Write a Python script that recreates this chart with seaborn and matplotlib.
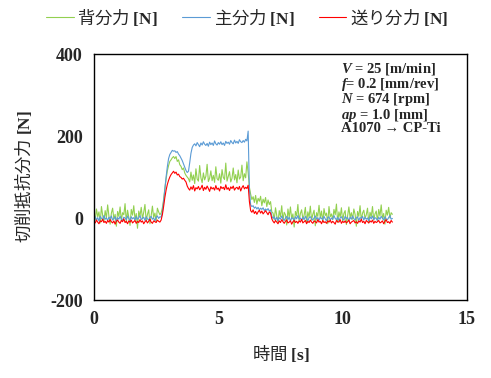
import numpy as np
import pandas as pd
import matplotlib
matplotlib.use("Agg")
import matplotlib.pyplot as plt
import seaborn as sns

# time axis, 0.05 s step from 0 to 12 s
time_s = np.round(np.arange(241) * 0.05, 2)

# 背分力 (thrust force) [N]
back_force = [
    10, -5, 22, 3, 15, -12, 28, 6, -8, 18, 0, 32, 5, -15, 12, 24, -3, 9, -20, 16,
    4, 27, -6, 13, 8, 35, -10, 19, 2, -18, 21, 7, 30, -4, 11, -25, 17, 5, 26, -2,
    14, 33, -7, 9, 20, -14, 6, 29, 1, 12, -9, 24, 15, 8,
    12, 25, 45, 72, 95, 115, 128, 138, 142, 147, 150,
    145, 150, 138, 142, 130, 126, 118, 122, 110, 104, 100,
    96, 88, 112, 92, 105, 84, 120, 95, 90, 128, 98, 86, 110, 93, 102, 131, 89, 97, 115, 91,
    104, 87, 125, 96, 92, 108, 85, 118, 99, 94, 134, 90, 101, 113, 88, 97, 122, 93, 106, 86,
    117, 95, 100, 129, 91, 108, 98, 137, 110,
    75,
    58, 45, 52, 38, 55, 34, 48, 41, 53, 30, 46, 37, 50, 28, 44, 33, 40,
    15,
    12, -4, 25, 6, -10, 18, 3, 30, -6, 14, 8, -17, 22, 1, 27, -2, 10, -22, 16, 5,
    33, -8, 11, 20, -3, 7, 26, -13, 15, 2, 29, -5, 9, 19, -19, 13, 4, 31, 0, 17,
    -9, 23, 6, 12, -14, 28, 3, 10, -4, 21, 8, 34, -11, 15, 2, 25, -7, 11, 18, -16,
    6, 27, 1, 13, -3, 22, 9, -20, 16, 4, 30, -6, 12, 19, -1, 8, 24, -12, 14, 3,
    28, -5, 10, 17, -8, 21, 5, 32, -2, 11, -15, 19, 7, 26, 0, 13, 9,
]

# 主分力 (principal force) [N]
main_force = [
    -2, 3, -5, 1, -7, 4, -1, -4, 6, -3, 0, -6, 2, -2, 5, -5, -1, 3, -8, 1,
    -3, 4, -2, -6, 2, 0, -4, 5, -1, -7, 3, -2, 1, -5, 4, -3, 0, 6, -4, -1,
    2, -6, 3, -2, -5, 1, 4, -3, 0, -7, 2, 5, -1, 3,
    2, 15, 40, 70, 100, 125, 145, 155, 160, 165, 163,
    164, 160, 162, 156, 152, 146, 140, 132, 124, 116, 111,
    114, 135, 158, 172, 178,
    181, 176, 184, 179, 174, 183, 178, 186, 180, 177,
    182, 175, 185, 179, 183, 177, 188, 181, 178, 184,
    180, 186, 179, 183, 177, 187, 182, 185, 180, 189,
    184, 181, 190, 183, 187, 182, 191, 186, 184, 189,
    185, 192, 188, 212,
    70,
    32, 28, 30, 24, 27, 22, 26, 20, 24, 21, 25, 18, 22, 19, 23, 17, 20,
    5,
    -1, 3, -5, 2, -7, 1, -3, 5, -2, -6, 0, 4, -4, 2, -8, 1, -1, -5, 3, -2,
    6, -3, 0, -6, 2, -4, 4, -1, -7, 1, 3, -2, -5, 0, 5, -3, 1, -6, 2, -1,
    -4, 4, -2, -7, 1, 3, -5, 0, -3, 6, -1, -4, 2, -6, 0, 3, -2, -5, 4, -1,
    1, -7, 2, -3, 5, -2, -4, 0, 3, -6, 1, -1, 4, -5, 2, -3, 0, -7, 3, -2,
    5, -4, 1, -1, -6, 2, -3, 4, 0, -5, 3, -2, -4, 1, 6, -3, -1,
]

# 送り分力 (feed force) [N]
feed_force = [
    -8, -12, -5, -10, -14, -7, -9, -3, -11, -8, -13, -6, -10, -4, -9, -12, -7, -15, -8, -5,
    -10, -13, -6, -9, -2, -11, -8, -14, -7, -10, -5, -12, -9, -6, -13, -8, -11, -4, -10, -7,
    -14, -9, -6, -12, -8, -3, -10, -13, -7, -9, -11, -5, -8, -10,
    -5, 8, 28, 50, 68, 82, 92, 100, 106, 110, 114,
    109, 112, 105, 107, 101, 99, 95, 97, 92, 88, 78,
    72, 68, 76, 70, 79, 66, 74, 71, 77, 69, 73, 80, 67, 75, 70, 78, 72, 65, 76, 71,
    74, 68, 79, 70, 73, 66, 77, 72, 75, 69, 81, 70, 74, 67, 76, 72, 78, 68, 73, 75,
    70, 77, 66, 74, 79, 71, 75, 72, 80,
    40,
    18, 14, 20, 11, 16, 9, 15, 19, 12, 17, 10, 14, 18, 13, 8, 15, 12,
    -2,
    -8, -12, -6, -10, -14, -7, -11, -4, -9, -13, -8, -5, -12, -10, -7, -15, -9, -6, -11, -8,
    -13, -7, -10, -3, -12, -9, -6, -14, -8, -11, -5, -10, -13, -7, -9, -12, -4, -10, -8, -14,
    -6, -11, -9, -13, -7, -10, -5, -12, -8, -11, -15, -6, -9, -10, -4, -13, -8, -11, -7, -12,
    -9, -5, -14, -10, -8, -6, -12, -9, -13, -7, -10, -3, -11, -8, -14, -6, -9, -12, -7, -10,
    -5, -13, -8, -11, -9, -6, -12, -10, -7, -14, -8, -4, -11, -9, -13, -6, -10,
]

labels = ["背分力 $\\mathbf{[N]}$", "主分力 $\\mathbf{[N]}$", "送り分力 $\\mathbf{[N]}$"]
colors = ["#92d050", "#5b9bd5", "#ff0000"]

df = pd.concat([
    pd.DataFrame({"t": time_s, "force": back_force, "series": labels[0]}),
    pd.DataFrame({"t": time_s, "force": main_force, "series": labels[1]}),
    pd.DataFrame({"t": time_s, "force": feed_force, "series": labels[2]}),
])

sns.set_style("white")
plt.rcParams["font.family"] = ["Noto Sans CJK JP", "DejaVu Sans"]
plt.rcParams["axes.unicode_minus"] = False
plt.rcParams["mathtext.fontset"] = "custom"
plt.rcParams["mathtext.rm"] = "Liberation Serif"
plt.rcParams["mathtext.bf"] = "Liberation Serif:bold"
plt.rcParams["mathtext.it"] = "Liberation Serif:italic"
plt.rcParams["mathtext.bfit"] = "Liberation Serif:italic:bold"

fig = plt.figure(figsize=(4.91, 3.78), dpi=100)
ax = fig.add_axes([0.1914, 0.2063, 0.7597, 0.6508])

sns.lineplot(data=df, x="t", y="force", hue="series", hue_order=labels,
             palette=dict(zip(labels, colors)), linewidth=0.8, estimator=None,
             ax=ax, legend=True)

ax.set_xlim(0, 15)
ax.set_ylim(-200, 400)
ax.set_xticks([0, 5, 10, 15])
ax.set_yticks([-200, 0, 200, 400])
ax.tick_params(direction="in", length=4, width=1, color="black", pad=8)
for lab in ax.get_xticklabels() + ax.get_yticklabels():
    lab.set_fontfamily("Liberation Serif")
    lab.set_fontweight("bold")
    lab.set_fontsize(13)
for sp in ax.spines.values():
    sp.set_visible(True)
    sp.set_color("black")
    sp.set_linewidth(1)

ax.set_xlabel("時間 $\\mathbf{[s]}$", fontsize=12.5)
ax.set_ylabel("切削抵抗分力 $\\mathbf{[N]}$", fontsize=12.5)
ax.xaxis.set_label_coords(0.5, -0.175)
ax.yaxis.set_label_coords(-0.16, 0.5)

handles, _ = ax.get_legend_handles_labels()
ax.legend(handles=handles, labels=labels, loc="center", bbox_to_anchor=(0.503, 0.955),
          bbox_transform=fig.transFigure, ncol=3, frameon=False, fontsize=12.5,
          handlelength=1.6, handletextpad=0.2, columnspacing=1.4)

info = ("$\\mathbfit{V}$ = 25 [m/min]\n"
        "$\\mathbfit{f}$= 0.2 [mm/rev]\n"
        "$\\mathbfit{N}$ = 674 [rpm]\n"
        "$\\mathbfit{ap}$ = 1.0 [mm]\n"
        "A1070 → CP-Ti")
ax.text(0.662, 0.97, info, transform=ax.transAxes, ha="left", va="top",
        fontsize=10.5, fontweight="bold", family=["Liberation Serif", "DejaVu Serif"],
        linespacing=0.87)

fig.savefig("out.png", dpi=100)
